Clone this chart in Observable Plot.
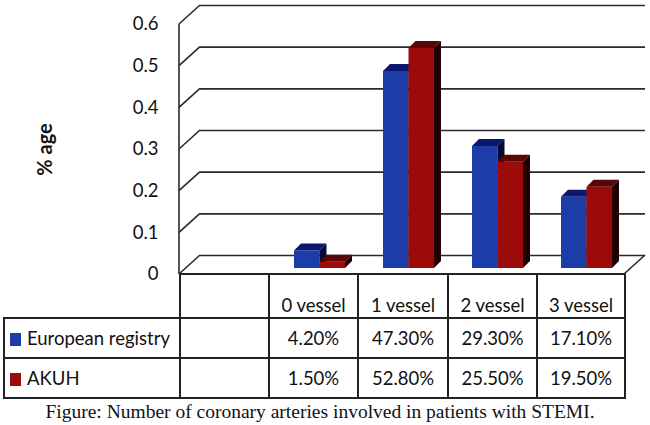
<!DOCTYPE html>
<html><head><meta charset="utf-8">
<script src="https://cdn.jsdelivr.net/npm/d3@7"></script>
<script src="https://cdn.jsdelivr.net/npm/@observablehq/plot@0.6"></script>
<style>
body{margin:0;background:#fff;width:650px;height:425px;position:relative;overflow:hidden;font-family:Lato,sans-serif}
#chart{position:absolute;left:0;top:0}
#tbl{position:absolute;left:3px;top:273px;border-collapse:collapse;table-layout:fixed;font-family:Lato,sans-serif;font-size:18.5px;color:#111}
#tbl td{border:2px solid #222;padding:0;text-align:center;overflow:hidden;white-space:nowrap}
#tbl td.leg{text-align:left;padding-left:5px}
#tbl tr.head td{vertical-align:bottom;padding-bottom:1px}
#tbl td.blank{border-top:none;border-left:none}
.sw{display:inline-block;width:11px;height:13px;margin-right:6px;vertical-align:-1px}
#caption{position:absolute;left:0;width:640px;top:401px;text-align:center;font-family:"Liberation Serif",serif;font-size:19.5px;color:#111}
</style></head>
<body>
<div id="chart"></div>
<table id="tbl"></table>
<div id="caption"></div>
<script>
const categories = ["0 vessel", "1 vessel", "2 vessel", "3 vessel"];
const seriesNames = ["European registry", "AKUH"];
const europeanRegistry = [0.042, 0.473, 0.293, 0.171];
const akuh = [0.015, 0.528, 0.255, 0.195];
const yTicks = [0, 0.1, 0.2, 0.3, 0.4, 0.5, 0.6];
const yLabel = "% age";
const captionText = "Figure: Number of coronary arteries involved in patients with STEMI.";

const seriesValues = [europeanRegistry, akuh];
const frontColor = ["#1c3ca8", "#9c0a0a"];
const topColor = ["#0a186e", "#5a0606"];
const sideColor = ["#040a32", "#200000"];
const D = {bx: 7, by: -6, d: 7, wx: 21, wy: -19};
const inset = [[19, 44.5], [44.5, 19]];

const rows = [];
seriesNames.forEach((s, si) => categories.forEach((c, ci) => rows.push({series: s, si, cat: c, v: seriesValues[si][ci]})));

function bw(scales) {
  return scales.x.bandwidth ? scales.x.bandwidth() : scales.scales.x.bandwidth;
}

function faces(si) {
  return (index, scales) => {
    const g = d3.create("svg:g");
    const b = bw(scales);
    for (const r of rows.filter(r => r.si === si)) {
      const x0 = scales.x(r.cat) + inset[si][0] + D.bx;
      const x1 = scales.x(r.cat) + b - inset[si][1] + D.bx;
      const yT = scales.y(r.v) + D.by, yB = scales.y(0) + D.by;
      g.append("path").attr("d", `M${x0},${yT}L${x1},${yT}L${x1 + D.d},${yT - D.d}L${x0 + D.d},${yT - D.d}Z`).attr("fill", topColor[si]);
      g.append("path").attr("d", `M${x1},${yT}L${x1 + D.d},${yT - D.d}L${x1 + D.d},${yB - D.d}L${x1},${yB}Z`).attr("fill", sideColor[si]);
    }
    return g.node();
  };
}

const wall = (index, scales, values, dims) => {
  const g = d3.create("svg:g").attr("stroke", "#2a2a2a").attr("stroke-width", 1.6).attr("fill", "none");
  const xL = dims.marginLeft, xR = dims.width - dims.marginRight;
  for (const t of yTicks) {
    const y = scales.y(t);
    g.append("path").attr("d", `M${xL},${y}L${xL + D.wx},${y + D.wy}`);
  }
  g.append("path").attr("d", `M${xL},${scales.y(0)}L${xL},${scales.y(yTicks[yTicks.length - 1])}`);
  g.append("path").attr("d", `M${xR},${scales.y(0)}L${xR + D.wx},${scales.y(0) + D.wy}`);
  g.append("path").attr("d", `M${xL},${scales.y(0)}L${xR},${scales.y(0)}`);
  return g.node();
};

const barMarks = [];
seriesNames.forEach((s, si) => {
  barMarks.push(Plot.barY(rows.filter(r => r.si === si), {
    x: "cat", y: "v", fill: frontColor[si],
    insetLeft: inset[si][0], insetRight: inset[si][1], dx: D.bx, dy: D.by
  }));
  barMarks.push(faces(si));
});

const chart = Plot.plot({
  width: 650, height: 286,
  marginLeft: 179, marginRight: 26, marginTop: 24, marginBottom: 12,
  style: {background: "transparent", fontFamily: "Lato, sans-serif", color: "#111"},
  x: {type: "band", domain: ["", ...categories], padding: 0, axis: null},
  y: {domain: [0, 0.6], axis: null},
  marks: [
    Plot.ruleY(yTicks, {dx: D.wx, dy: D.wy, stroke: "#2a2a2a", strokeWidth: 1.6}),
    wall,
    ...barMarks,
    Plot.text(yTicks, {y: d => d, text: d => String(d), frameAnchor: "left", textAnchor: "end", dx: -21, fontSize: 18.5, fill: "#111"}),
    Plot.text([yLabel], {y: () => 0.3, frameAnchor: "left", textAnchor: "middle", dx: -134, rotate: -90, fontSize: 20, fontWeight: "bold", fill: "#111"})
  ]
});
document.getElementById("chart").appendChild(chart);

// data table
const fmt = d3.format(".2%");
const tbl = d3.select("#tbl");
const colW = [176, 89, 89, 90, 89, 88];
const cg = tbl.append("colgroup");
colW.forEach(w => cg.append("col").style("width", w + "px"));
const head = tbl.append("tr").attr("class", "head").style("height", "44px");
head.append("td").attr("class", "blank");
head.append("td");
categories.forEach(c => head.append("td").text(c));
seriesNames.forEach((s, si) => {
  const tr = tbl.append("tr").style("height", "40px");
  const td = tr.append("td").attr("class", "leg");
  td.append("span").attr("class", "sw").style("background", frontColor[si]);
  td.append("span").text(s);
  tr.append("td");
  seriesValues[si].forEach(v => tr.append("td").text(fmt(v)));
});
document.getElementById("caption").textContent = captionText;
</script>
</body></html>
